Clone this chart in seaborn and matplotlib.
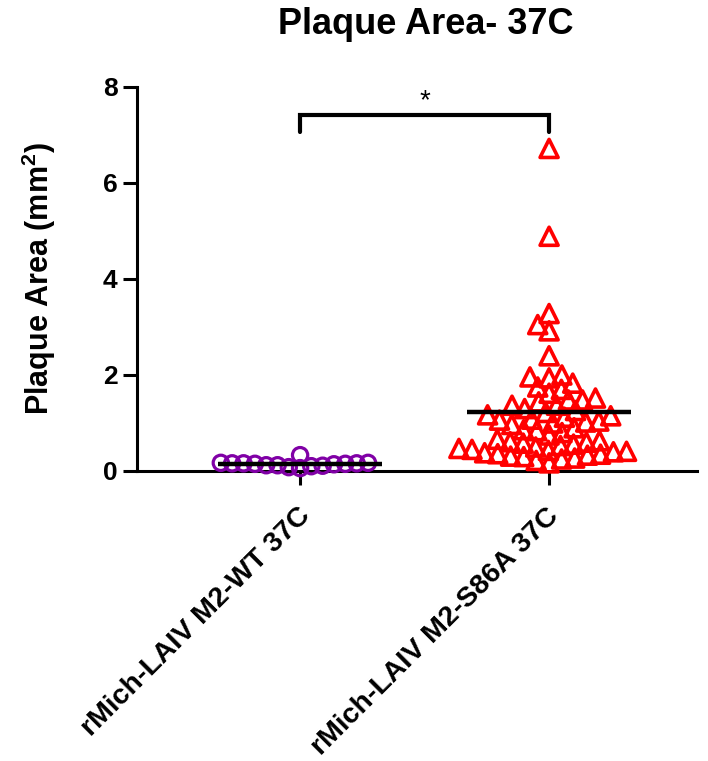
import numpy as np
import pandas as pd
import matplotlib
matplotlib.use("Agg")
import matplotlib.pyplot as plt
import matplotlib.transforms as mtransforms
import seaborn as sns

# ---- data ----
categories = ["rMich-LAIV M2-WT 37C", "rMich-LAIV M2-S86A 37C"]
wt_values = [0.12, 0.10, 0.16, 0.15, 0.17, 0.16, 0.15, 0.17, 0.16, 0.14,
             0.08, 0.33, 0.12, 0.06, 0.11]
s86a_values = [6.72, 4.89, 3.28, 3.05, 2.92, 2.40,
               2.00, 1.96, 1.94, 1.83, 1.75, 1.70, 1.62,
               1.52, 1.48, 1.48, 1.44, 1.37, 1.37,
               1.30, 1.26, 1.22, 1.17, 1.15, 1.12,
               1.08, 1.06, 1.04, 1.02, 1.00, 0.97,
               0.90, 0.86, 0.84, 0.80, 0.75,
               0.66, 0.63, 0.61, 0.60, 0.58, 0.56, 0.53, 0.50,
               0.47, 0.45, 0.43, 0.41, 0.40, 0.38, 0.36, 0.35, 0.33, 0.31, 0.30,
               0.27, 0.25, 0.22, 0.17]
y_ticks = [0, 2, 4, 6, 8]
title = "Plaque Area- 37C"
ylabel = "Plaque Area (mm$^\\mathbf{2}$)"
sig_label = "*"
colors = ["#8000a6", "#ff0000"]

df = pd.DataFrame({
    "group": [categories[0]] * len(wt_values) + [categories[1]] * len(s86a_values),
    "area": wt_values + s86a_values,
})

sns.set_style("ticks")
plt.rcParams["font.family"] = ["Liberation Sans", "DejaVu Sans"]
plt.rcParams["font.weight"] = "bold"
plt.rcParams["mathtext.fontset"] = "custom"
plt.rcParams["mathtext.bf"] = "Liberation Sans:bold"
plt.rcParams["mathtext.rm"] = "Liberation Sans:bold"
for k in ["text.color", "axes.labelcolor", "xtick.color", "ytick.color", "axes.edgecolor"]:
    plt.rcParams[k] = "black"

W, H = 708, 761
fig = plt.figure(figsize=(W / 100, H / 100), dpi=100)
ax = fig.add_axes([137 / W, 1 - 471 / H, (697 - 137) / W, (471 - 87) / H])
ax.set_xlim(-0.655, 1.594)
ax.set_ylim(0, 8)

markers = ["o", "^"]
layout_sizes = [7.8, 9.0]   # spacing used for the swarm layout
show_sizes = [11.0, 13.0]   # displayed marker size
groups = []
for i, cat in enumerate(categories):
    sub = df[df["group"] == cat]
    n_before = len(ax.collections)
    sns.swarmplot(data=sub, x="group", y="area", order=categories,
                  marker=markers[i], size=layout_sizes[i], color=colors[i],
                  linewidth=0, ax=ax)
    groups.append(ax.collections[n_before:])

ax.set_xlim(-0.655, 1.594)
ax.set_ylim(0, 8)
fig.canvas.draw()  # compute swarm positions

for i, colls in enumerate(groups):
    for coll in colls:
        if len(coll.get_offsets()) == 0:
            coll.set_visible(False)
            continue
        if "draw" in coll.__dict__:
            del coll.draw  # freeze the computed layout
        coll.set_sizes([show_sizes[i] ** 2])
        coll.set_facecolor("none")
        coll.set_edgecolor(colors[i])
        coll.set_linewidth(2.6 if i == 1 else 2.3)
        coll.set_clip_on(False)
        coll.set_zorder(3)

# mean lines
for i, cat in enumerate(categories):
    m = df.loc[df["group"] == cat, "area"].mean()
    ax.hlines(m, i - 0.33, i + 0.33, color="black", lw=3.2, zorder=4)

# significance bracket
ax.plot([0, 0, 1, 1], [7.06, 7.42, 7.42, 7.06], color="black", lw=3,
        clip_on=False, solid_joinstyle="miter")
ax.text(0.5, 7.56, sig_label, ha="center", va="baseline", fontsize=20,
        fontweight="normal")

for s in ["top", "right"]:
    ax.spines[s].set_visible(False)
for s in ["left", "bottom"]:
    ax.spines[s].set_linewidth(2.2)
ax.tick_params(axis="both", length=10, width=2.2, color="black")
ax.tick_params(axis="y", pad=4)
ax.tick_params(axis="x", pad=13)

ax.set_yticks(y_ticks)
ax.set_yticklabels([str(t) for t in y_ticks], fontsize=19, fontweight="bold")
ax.set_xlabel("")
ax.set_ylabel(ylabel, fontsize=22, fontweight="bold", labelpad=32)
ax.set_xticks(range(len(categories)))
ax.set_xticklabels(categories, rotation=45, ha="right", va="top",
                   rotation_mode="anchor", fontsize=20.5, fontweight="bold")
offset = mtransforms.ScaledTranslation(-3 / 100, 0, fig.dpi_scale_trans)
for lab in ax.get_xticklabels():
    lab.set_transform(lab.get_transform() + offset)

fig.text(426 / W, 1 - 25 / H, title, ha="center", va="center",
         fontsize=26, fontweight="bold")

fig.savefig("out.png", dpi=100)
